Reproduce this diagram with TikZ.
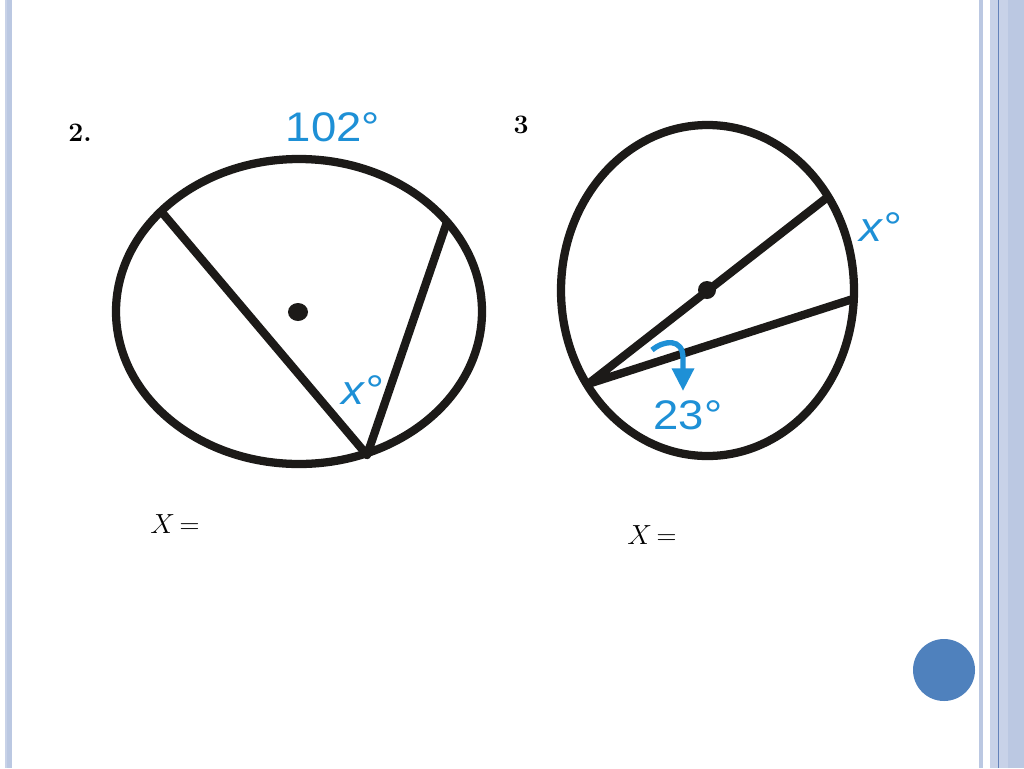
\documentclass[tikz,border=0pt]{standalone}
\usepackage{fontspec}
\newfontfamily\labelfont{Liberation Sans}
\usetikzlibrary{arrows.meta}
\definecolor{lblue}{RGB}{30,144,214}
\definecolor{stripe}{RGB}{187,200,226}
\definecolor{stripeb}{RGB}{200,210,232}
\definecolor{stripeline}{RGB}{100,130,185}
\definecolor{ball}{RGB}{79,129,189}
\definecolor{ink}{RGB}{28,26,24}
\begin{document}
\begin{tikzpicture}[x=0.75pt,y=-0.75pt,
  geo/.style={draw=ink,line width=6.2pt,line join=round},
  dotm/.style={fill=ink},
  bluelabel/.style={text=lblue,font=\labelfont\fontsize{31}{31}\selectfont,inner sep=0pt,xscale=1.1},
  num/.style={font=\fontsize{20}{20}\selectfont\bfseries,inner sep=0pt},
  ans/.style={font=\fontsize{20}{20}\selectfont,inner sep=0pt}]
\useasboundingbox (0,0) rectangle (1024,768);
\fill[white] (0,0) rectangle (1024,768);
% left border
\fill[stripeb] (5,0) rectangle (7,768);
\fill[stripe] (7,0) rectangle (12,768);
% right border
\fill[stripe] (979,0) rectangle (983,768);
\fill[stripeb] (990,0) rectangle (1008,768);
\fill[stripe] (1008,0) rectangle (1024,768);
\fill[stripeline] (997.5,0) rectangle (999,768);
% blue ball
\fill[ball] (944,670) circle (31);
% figure 2
\draw[geo] (299,311.5) ellipse (183 and 152.5);
\coordinate (A1) at (160,210);
\coordinate (B1) at (447,222);
\coordinate (C1) at (367,455);
\draw[geo] (A1) -- (C1) -- (B1);
\fill[dotm] (298,312) ellipse (10 and 9);
\node[bluelabel] (l102) at (333,127) {102°};
\node[bluelabel] (lx1) at (362,390) {\itshape x°};
\node[num] (n2) at (80,133) {2.};
\node[ans] (x1) at (175,524) {$X\mkern3mu{=}$};
% figure 3
\draw[geo] (707.5,290.5) ellipse (146.5 and 165.5);
\coordinate (P) at (588,384);
\coordinate (Q) at (829,196);
\coordinate (R) at (856,298);
\draw[geo] (Q) -- (P) -- (R);
\fill[dotm] (707,290) circle (9);
\node[bluelabel] (lx2) at (880,227) {\itshape x°};
\node[bluelabel] (l23) at (688,415) {23°};
\draw[lblue,line width=4pt,-{Triangle[length=17pt,width=16pt]}]
  (652,350) .. controls (664,340) and (683,338) .. (683,358) -- (683,391);
\node[num] (n3) at (521,125) {3};
\node[ans] (x2) at (652,535) {$X\mkern3mu{=}$};
\end{tikzpicture}
\end{document}
